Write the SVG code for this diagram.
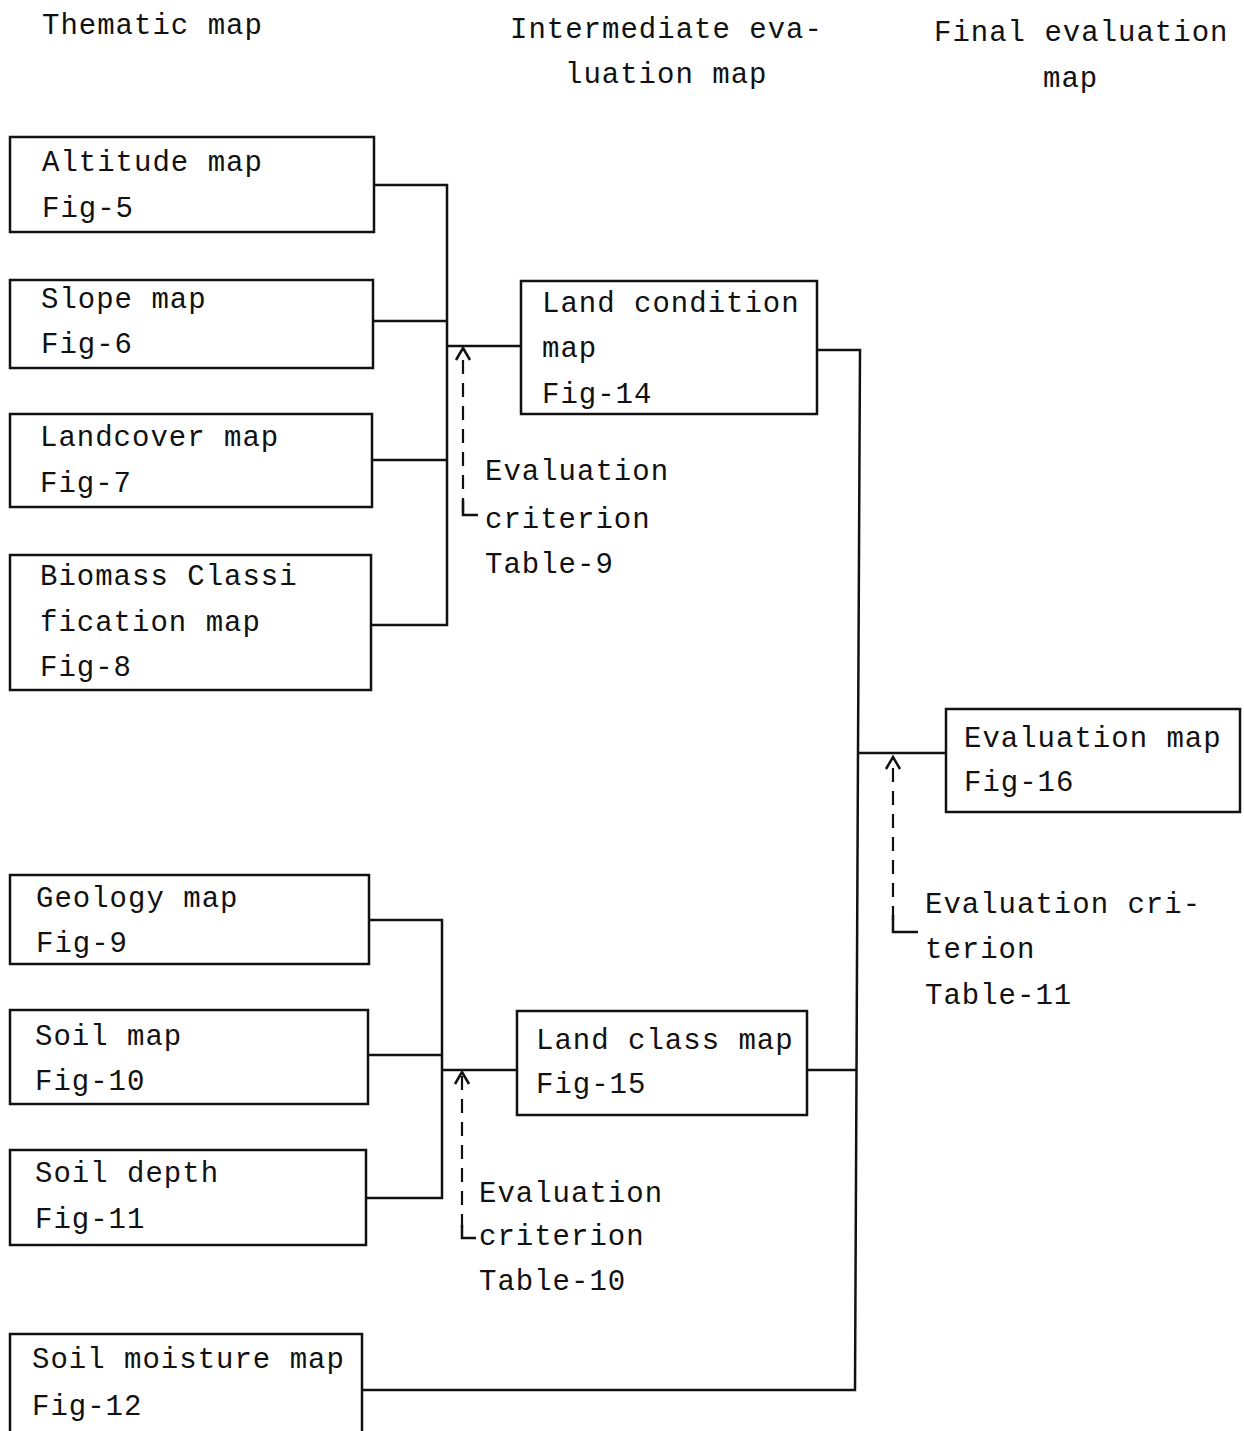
<svg xmlns="http://www.w3.org/2000/svg" width="1244" height="1431" viewBox="0 0 1244 1431">
<style>
text{font-family:"Liberation Mono","Courier New",monospace;font-size:29px;letter-spacing:1px;fill:#111}
.box{fill:none;stroke:#111;stroke-width:2.5}
.ln{fill:none;stroke:#111;stroke-width:2.5}
.dash{fill:none;stroke:#111;stroke-width:2.2;stroke-dasharray:14 9}
.ah{fill:none;stroke:#111;stroke-width:2.5;stroke-linejoin:miter}
</style>
<rect width="1244" height="1431" fill="#fff"/>
<g id="headers">
<text x="42" y="34">Thematic map</text>
<text x="510" y="38">Intermediate eva-</text>
<text x="565" y="83">luation map</text>
<text x="934" y="41">Final evaluation</text>
<text x="1043" y="87">map</text>
</g>
<g id="n-altitude"><rect class="box" x="10" y="137" width="364" height="95"/><text x="42" y="171">Altitude map</text><text x="42" y="217">Fig-5</text></g>
<g id="n-slope"><rect class="box" x="10" y="280" width="363" height="88"/><text x="41" y="308">Slope map</text><text x="41" y="353">Fig-6</text></g>
<g id="n-landcover"><rect class="box" x="10" y="414" width="362" height="93"/><text x="40" y="446">Landcover map</text><text x="40" y="492">Fig-7</text></g>
<g id="n-biomass"><rect class="box" x="10" y="555" width="361" height="135"/><text x="40" y="585">Biomass Classi</text><text x="40" y="631">fication map</text><text x="40" y="676">Fig-8</text></g>
<g id="n-geology"><rect class="box" x="10" y="875" width="359" height="89"/><text x="36" y="907">Geology map</text><text x="36" y="952">Fig-9</text></g>
<g id="n-soil"><rect class="box" x="10" y="1010" width="358" height="94"/><text x="35" y="1045">Soil map</text><text x="35" y="1090">Fig-10</text></g>
<g id="n-soildepth"><rect class="box" x="10" y="1150" width="356" height="95"/><text x="35" y="1182">Soil depth</text><text x="35" y="1228">Fig-11</text></g>
<g id="n-soilmoisture"><rect class="box" x="10" y="1334" width="352" height="110"/><text x="32" y="1368">Soil moisture map</text><text x="32" y="1415">Fig-12</text></g>
<g id="n-landcondition"><rect class="box" x="521" y="281" width="296" height="133"/><text x="542" y="312">Land condition</text><text x="542" y="357">map</text><text x="542" y="403">Fig-14</text></g>
<g id="n-landclass"><rect class="box" x="517" y="1011" width="290" height="104"/><text x="536" y="1049">Land class map</text><text x="536" y="1093">Fig-15</text></g>
<g id="n-evaluation"><rect class="box" x="946" y="709" width="294" height="103"/><text x="964" y="747">Evaluation map</text><text x="964" y="791">Fig-16</text></g>
<g id="labels">
<text x="485" y="480">Evaluation</text><text x="485" y="528">criterion</text><text x="485" y="573">Table-9</text>
<text x="479" y="1202">Evaluation</text><text x="479" y="1245">criterion</text><text x="479" y="1290">Table-10</text>
<text x="925" y="913">Evaluation cri-</text><text x="925" y="958">terion</text><text x="925" y="1004">Table-11</text>
</g>
<g id="connectors">
<polyline class="ln" points="374,185 447,185 447,625 371,625"/>
<line class="ln" x1="373" y1="321" x2="447" y2="321"/>
<line class="ln" x1="372" y1="460" x2="447" y2="460"/>
<line class="ln" x1="447" y1="346" x2="521" y2="346"/>
<polyline class="ln" points="369,920 442,920 442,1198 366,1198"/>
<line class="ln" x1="368" y1="1055" x2="442" y2="1055"/>
<line class="ln" x1="442" y1="1070" x2="517" y2="1070"/>
<polyline class="ln" points="817,350 860,350 858,753 855,1390 362,1390"/>
<line class="ln" x1="807" y1="1070" x2="857" y2="1070"/>
<line class="ln" x1="859" y1="753" x2="946" y2="753"/>
<line class="dash" x1="463" y1="512" x2="463" y2="350"/>
<polyline class="ah" points="456,360 463,348 470,360"/>
<polyline class="ln" points="463,500 463,515 478,515"/>
<line class="dash" x1="462" y1="1228" x2="462" y2="1074"/>
<polyline class="ah" points="455,1084 462,1072 469,1084"/>
<polyline class="ln" points="462,1225 462,1238 476,1238"/>
<line class="dash" x1="893" y1="920" x2="893" y2="759"/>
<polyline class="ah" points="886,769 893,757 900,769"/>
<polyline class="ln" points="893,915 893,932 918,932"/>
</g>
</svg>
